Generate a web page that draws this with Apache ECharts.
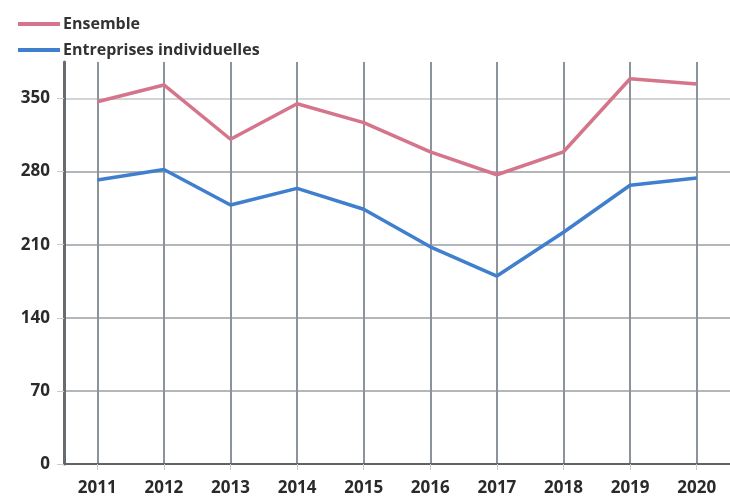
<!DOCTYPE html>
<html>
<head>
<meta charset="utf-8">
<script src="https://cdn.jsdelivr.net/npm/echarts@6/dist/echarts.min.js"></script>
<style>
  html, body { margin: 0; padding: 0; background: #ffffff; }
  #chart { width: 730px; height: 497px; }
</style>
</head>
<body>
<div id="chart"></div>
<script>
// Years on the horizontal axis
const years = ['2011', '2012', '2013', '2014', '2015', '2016', '2017', '2018', '2019', '2020'];

// Series values
const ensemble = [347, 363, 311, 345, 327, 299, 277, 299, 369, 364];
const entreprisesIndividuelles = [272, 282, 248, 264, 244, 208, 180, 222, 267, 274];

// Vertical axis scale
const yMin = 0;
const yMax = 385;
const yStep = 70;

const seriesNames = ['Ensemble', 'Entreprises individuelles'];
const seriesColors = ['#d4758b', '#3f7fce'];

const textFont = '"Open Sans", "Liberation Sans", sans-serif';

const chart = echarts.init(document.getElementById('chart'), null, { renderer: 'canvas' });

chart.setOption({
  animation: false,
  backgroundColor: '#ffffff',
  legend: {
    orient: 'vertical',
    left: 13,
    top: 11,
    itemWidth: 42,
    itemHeight: 4,
    itemGap: 10,
    icon: 'rect',
    textStyle: {
      fontFamily: textFont,
      fontWeight: 'bold',
      fontSize: 16,
      lineHeight: 16,
      color: '#333333',
      padding: [0, 0, 0, -2]
    },
    data: seriesNames
  },
  grid: {
    left: 64,
    right: 0,
    top: 62,
    bottom: 32,
    containLabel: false
  },
  xAxis: {
    type: 'category',
    data: years,
    boundaryGap: true,
    axisLine: { show: true, lineStyle: { color: '#5f6368', width: 2 } },
    axisTick: { show: true, alignWithLabel: true, length: 6, lineStyle: { color: '#c8cacc', width: 1 } },
    axisLabel: {
      fontFamily: textFont,
      fontWeight: 'bold',
      fontSize: 17,
      color: '#2a2a2a',
      margin: 16
    },
    splitLine: {
      show: true,
      alignWithLabel: true,
      lineStyle: { color: '#8d939b', width: 2 }
    }
  },
  yAxis: {
    type: 'value',
    min: yMin,
    max: yMax,
    interval: yStep,
    axisLine: { show: true, lineStyle: { color: '#666b70', width: 3 } },
    axisTick: { show: true, length: 7, lineStyle: { color: '#c8cacc', width: 1 } },
    axisLabel: {
      fontFamily: textFont,
      fontWeight: 'bold',
      fontSize: 17,
      color: '#2a2a2a',
      margin: 14,
      showMaxLabel: false
    },
    splitLine: {
      show: true,
      lineStyle: {
        color: ['#9a9ea3', '#9a9ea3', '#9a9ea3', '#9a9ea3', '#9a9ea3', '#c3c6c9', 'rgba(0,0,0,0)'],
        width: 1.5
      }
    }
  },
  series: [
    {
      name: seriesNames[0],
      type: 'line',
      data: ensemble,
      symbol: 'none',
      lineStyle: { color: seriesColors[0], width: 3.5 },
      itemStyle: { color: seriesColors[0] },
      z: 3
    },
    {
      name: seriesNames[1],
      type: 'line',
      data: entreprisesIndividuelles,
      symbol: 'none',
      lineStyle: { color: seriesColors[1], width: 3.5 },
      itemStyle: { color: seriesColors[1] },
      z: 3
    }
  ]
});
</script>
</body>
</html>
